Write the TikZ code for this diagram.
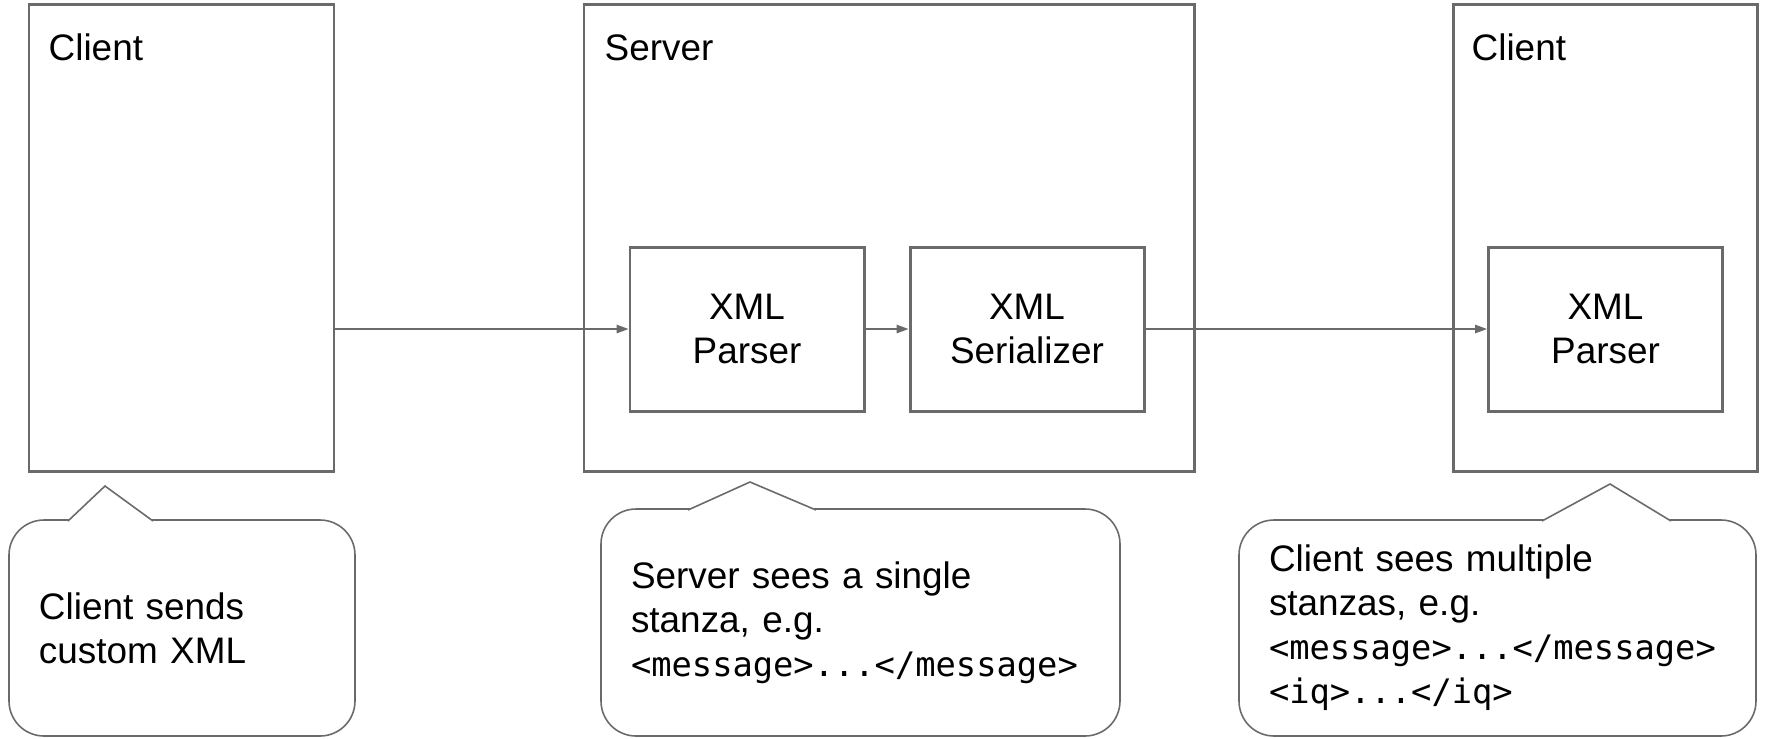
\documentclass[tikz,border=0pt]{standalone}
\usepackage{fontspec}
\setmainfont{Liberation Sans}
\newfontfamily\codefont{DejaVu Sans Mono}
\usetikzlibrary{arrows.meta}

\definecolor{boxgray}{HTML}{6A6A6A}
\newcommand{\xmlcode}[1]{{\codefont\fontsize{9.6}{12.5}\selectfont #1}}

\tikzset{
    box/.style={draw=boxgray, line width=0.85pt, minimum height=4.67cm, inner sep=0pt},
    part/.style={draw=boxgray, line width=0.85pt, minimum width=2.34cm, minimum height=1.64cm,
        inner sep=0pt, align=center},
    boxname/.style={anchor=base west, inner sep=0pt},
    bubble/.style={draw=boxgray, line width=0.45pt, rounded corners=0.35cm, inner xsep=0.3cm,
        inner ysep=0pt, align=left},
    tip/.style={draw=boxgray, line width=0.45pt, fill=white},
    flow/.style={draw=boxgray, line width=0.4pt, -{Triangle[length=3.4pt,width=2.4pt]}},
}

\begin{document}
\begin{tikzpicture}[font=\fontsize{10.5}{12.5}\selectfont]
    \useasboundingbox (0,0) rectangle (17.66,-7.38);

    \node[box, minimum width=3.05cm] (lclient) at (1.815,-2.375) {};
    \node[boxname] (lclient-name) at (0.48,-0.60) {Client};

    \node[box, minimum width=6.10cm] (server) at (8.89,-2.375) {};
    \node[boxname] (server-name) at (6.04,-0.60) {Server};
    \node[part] (sparser) at (7.47,-3.29) {XML\\Parser};
    \node[part] (sserial) at (10.27,-3.29) {XML\\Serializer};

    \node[box, minimum width=3.04cm] (rclient) at (16.05,-2.375) {};
    \node[boxname] (rclient-name) at (14.71,-0.60) {Client};
    \node[part] (cparser) at (16.055,-3.29) {XML\\Parser};

    \draw[flow] (lclient.east |- sparser.west) -- (sparser.west);
    \draw[flow] (sparser) -- (sserial);
    \draw[flow] (sserial) -- (cparser);

    \node[bubble, text width=2.86cm, minimum height=2.16cm] (lsay) at (1.82,-6.28)
        {Client sends\\custom XML};
    \draw[tip] (0.68,-5.21) -- (1.05,-4.86) -- (1.53,-5.21);

    \node[bubble, text width=4.59cm, minimum height=2.27cm] (ssay) at (8.605,-6.225)
        {Server sees a single\\stanza, e.g.\\\xmlcode{<message>...</message>}};
    \draw[tip] (6.88,-5.10) -- (7.50,-4.82) -- (8.16,-5.10);

    \node[bubble, text width=4.57cm, minimum height=2.16cm] (rsay) at (14.975,-6.28)
        {Client sees multiple\\stanzas, e.g.\\\xmlcode{<message>...</message>}\\\xmlcode{<iq>...</iq>}};
    \draw[tip] (15.42,-5.21) -- (16.10,-4.84) -- (16.71,-5.21);
\end{tikzpicture}
\end{document}
